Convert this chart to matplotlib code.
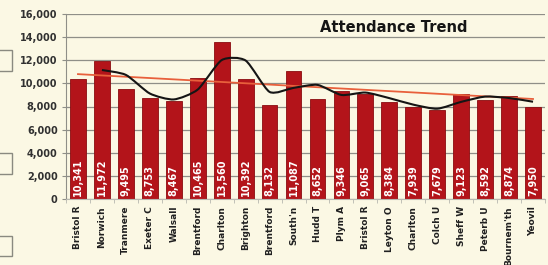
import numpy as np
import matplotlib
matplotlib.use("Agg")
import matplotlib.pyplot as plt
from matplotlib.path import Path
from matplotlib.patches import PathPatch, Rectangle
from matplotlib.ticker import FuncFormatter, MultipleLocator

categories = ["Bristol R", "Norwich", "Tranmere", "Exeter C", "Walsall", "Brentford",
              "Charlton", "Brighton", "Brentford", "South'n", "Hudd T", "Plym A",
              "Bristol R", "Leyton O", "Charlton", "Colch U", "Sheff W", "Peterb U",
              "Bournem'th", "Yeovil"]
attendance = [10341, 11972, 9495, 8753, 8467, 10465, 13560, 10392, 8132, 11087,
              8652, 9346, 9065, 8384, 7939, 7679, 9123, 8592, 8874, 7950]
trend_ends = [10800, 8650]   # linear trend line, first and last match
title = "Attendance Trend"

bg = "#fbf8e4"
fig = plt.figure(figsize=(5.48, 2.65), dpi=100, facecolor=bg)
ax = fig.add_axes([66/548, 1-199/265, 479/548, 185/265], facecolor=bg)

x = np.arange(len(categories))
vals = np.array(attendance, dtype=float)
ax.bar(x, vals, width=0.66, color="#b3141a", edgecolor="#8a0c10", linewidth=0.6, zorder=2)

for xi, v in zip(x, vals):
    ax.text(xi, 250, f"{int(v):,}", rotation=90, ha="center", va="bottom",
            color="white", fontsize=7, fontweight="bold", zorder=5)

# linear trendline
ax.plot([x[0], x[-1]], trend_ends, color="#e8603c", lw=1.3, zorder=3)

# 2-period moving average trendline, drawn smooth
ma = (vals[1:] + vals[:-1]) / 2
mx = x[1:].astype(float)
pts = np.column_stack([mx, ma])
verts = [pts[0]]
codes = [Path.MOVETO]
for i in range(len(pts) - 1):
    p0 = pts[i - 1] if i > 0 else pts[i]
    p1 = pts[i]
    p2 = pts[i + 1]
    p3 = pts[i + 2] if i + 2 < len(pts) else pts[i + 1]
    c1 = p1 + (p2 - p0) / 9
    c2 = p2 - (p3 - p1) / 9
    verts += [c1, c2, p2]
    codes += [Path.CURVE4] * 3
ax.add_patch(PathPatch(Path(verts, codes), fill=False, edgecolor="#151515", lw=1.5, zorder=4))

ax.set_xlim(-0.5, len(categories) - 0.5)
ax.set_ylim(0, 16000)
ax.yaxis.set_major_locator(MultipleLocator(2000))
ax.yaxis.set_major_formatter(FuncFormatter(lambda v, p: f"{int(v):,}"))
ax.grid(axis="y", color="#8f8f88", lw=0.9, zorder=0)
ax.set_axisbelow(True)
for s in ["top", "right"]:
    ax.spines[s].set_visible(False)
ax.spines["left"].set_color("#8f8f88")
ax.spines["bottom"].set_color("#b8b8b0")
ax.set_xticks(x)
ax.set_xticklabels(categories, rotation=90, fontsize=6.5, fontweight="bold", color="#202020")
ax.set_xticks(np.arange(-0.5, len(categories)), minor=True)
ax.tick_params(axis="x", which="major", length=0, pad=5)
ax.tick_params(axis="x", which="minor", length=3, color="#b8b8b0")
ax.tick_params(axis="y", length=3, color="#8f8f88", labelsize=7, labelcolor="#303030", pad=3)
for lab in ax.get_yticklabels():
    lab.set_fontweight("bold")

fig.text(394/548, 1-28/265, title, ha="center", va="center", fontsize=10.5,
         fontweight="bold", color="#151515")

# left-edge UI fragments
for y0, y1 in [(50, 71), (153, 174), (236, 256)]:
    fig.patches.append(Rectangle((-0.01, 1-y1/265), 12/548 + 0.01, (y1-y0)/265,
                                 transform=fig.transFigure, fill=False,
                                 edgecolor="#8a8a80", lw=1.0))

fig.savefig("out.png", dpi=100, facecolor=bg)
